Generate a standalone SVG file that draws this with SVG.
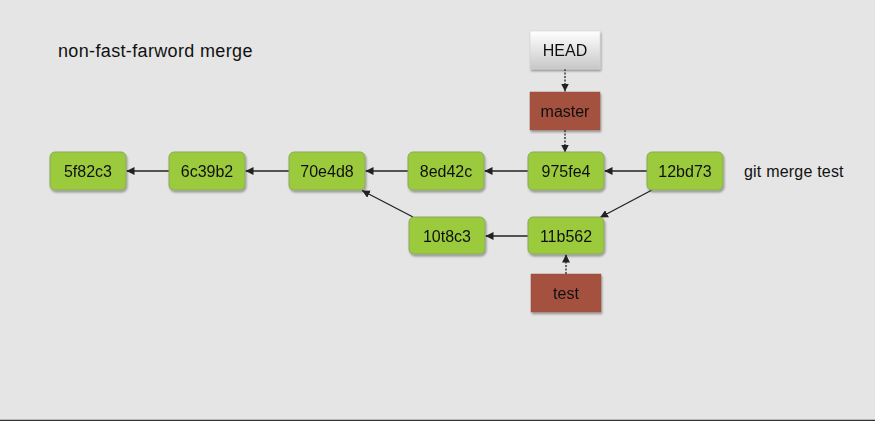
<svg xmlns="http://www.w3.org/2000/svg" width="875" height="421" viewBox="0 0 875 421">
<defs>
<linearGradient id="headGrad" x1="0" y1="0" x2="0" y2="1">
<stop offset="0" stop-color="#ffffff"/>
<stop offset="1" stop-color="#c8c8c8"/>
</linearGradient>
<filter id="sh" x="-10%" y="-10%" width="130%" height="140%">
<feGaussianBlur in="SourceAlpha" stdDeviation="1.2"/>
<feOffset dx="1" dy="1.5" result="b"/>
<feComponentTransfer><feFuncA type="linear" slope="0.35"/></feComponentTransfer>
<feMerge><feMergeNode/><feMergeNode in="SourceGraphic"/></feMerge>
</filter>
<marker id="arr" viewBox="0 0 10 10" refX="10" refY="5" markerWidth="8" markerHeight="8" markerUnits="userSpaceOnUse" orient="auto">
<path d="M0,0 L10,5 L0,10 z" fill="#222"/>
</marker>
</defs>
<style>
.commit rect{fill:#9bcb3c;stroke:#8aa860;stroke-width:1}
.ref rect{fill:#a5513f;stroke:#935040;stroke-width:0.5}
.head rect{fill:url(#headGrad);stroke:#d0d0d0;stroke-width:0.5}
text{font-family:"Liberation Sans",Arial,sans-serif;font-size:16px;fill:#111}
.lbl{text-anchor:middle}
.title{font-size:18px;letter-spacing:0.35px}
.edge{stroke:#222;stroke-width:1.3;fill:none;marker-end:url(#arr)}
.dot{stroke:#222;stroke-width:1.3;fill:none;stroke-dasharray:2 1.5;marker-end:url(#arr)}
</style>
<rect x="0" y="0" width="875" height="421" fill="#e5e5e5"/>
<line x1="0" y1="420.5" x2="875" y2="420.5" stroke="#333" stroke-width="1.5"/>
<text class="title" x="58" y="57">non-fast-farword merge</text>
<text x="744" y="177" style="letter-spacing:0.2px">git merge test</text>

<g id="connectors">
<line class="edge" x1="169" y1="171" x2="126.5" y2="171"/>
<line class="edge" x1="289" y1="171" x2="245.5" y2="171"/>
<line class="edge" x1="408" y1="171" x2="365.5" y2="171"/>
<line class="edge" x1="528" y1="171" x2="484.5" y2="171"/>
<line class="edge" x1="648" y1="171" x2="604.5" y2="171"/>
<line class="edge" x1="528" y1="236" x2="485.5" y2="236"/>
<line class="edge" x1="652" y1="190" x2="600" y2="217.5"/>
<line class="edge" x1="413" y1="217" x2="362" y2="190.5"/>
<line class="dot" x1="565" y1="69" x2="565" y2="91.5"/>
<line class="dot" x1="565" y1="130" x2="565" y2="152.5"/>
<line class="dot" x1="566" y1="274" x2="566" y2="254.5"/>
</g>

<g id="n5f82c3" class="commit" filter="url(#sh)"><rect x="50" y="152" width="76" height="38" rx="5"/><text class="lbl" x="88" y="177">5f82c3</text></g>
<g id="n6c39b2" class="commit" filter="url(#sh)"><rect x="169" y="152" width="76" height="38" rx="5"/><text class="lbl" x="207" y="177">6c39b2</text></g>
<g id="n70e4d8" class="commit" filter="url(#sh)"><rect x="289" y="152" width="76" height="38" rx="5"/><text class="lbl" x="327" y="177">70e4d8</text></g>
<g id="n8ed42c" class="commit" filter="url(#sh)"><rect x="408" y="152" width="76" height="38" rx="5"/><text class="lbl" x="446" y="177">8ed42c</text></g>
<g id="n975fe4" class="commit" filter="url(#sh)"><rect x="528" y="152" width="76" height="38" rx="5"/><text class="lbl" x="566" y="177">975fe4</text></g>
<g id="n12bd73" class="commit" filter="url(#sh)"><rect x="647" y="152" width="76" height="38" rx="5"/><text class="lbl" x="685" y="177">12bd73</text></g>
<g id="n10t8c3" class="commit" filter="url(#sh)"><rect x="409" y="217" width="76" height="37" rx="5"/><text class="lbl" x="447" y="241.5">10t8c3</text></g>
<g id="n11b562" class="commit" filter="url(#sh)"><rect x="528" y="217" width="76" height="37" rx="5"/><text class="lbl" x="566" y="241.5">11b562</text></g>

<g id="HEAD" class="head" filter="url(#sh)"><rect x="530" y="31" width="70" height="38"/><text class="lbl" x="565" y="56">HEAD</text></g>
<g id="master" class="ref" filter="url(#sh)"><rect x="530" y="92" width="70" height="38"/><text class="lbl" x="565" y="117">master</text></g>
<g id="test" class="ref" filter="url(#sh)"><rect x="531" y="274" width="70" height="38"/><text class="lbl" x="566" y="299">test</text></g>
</svg>
